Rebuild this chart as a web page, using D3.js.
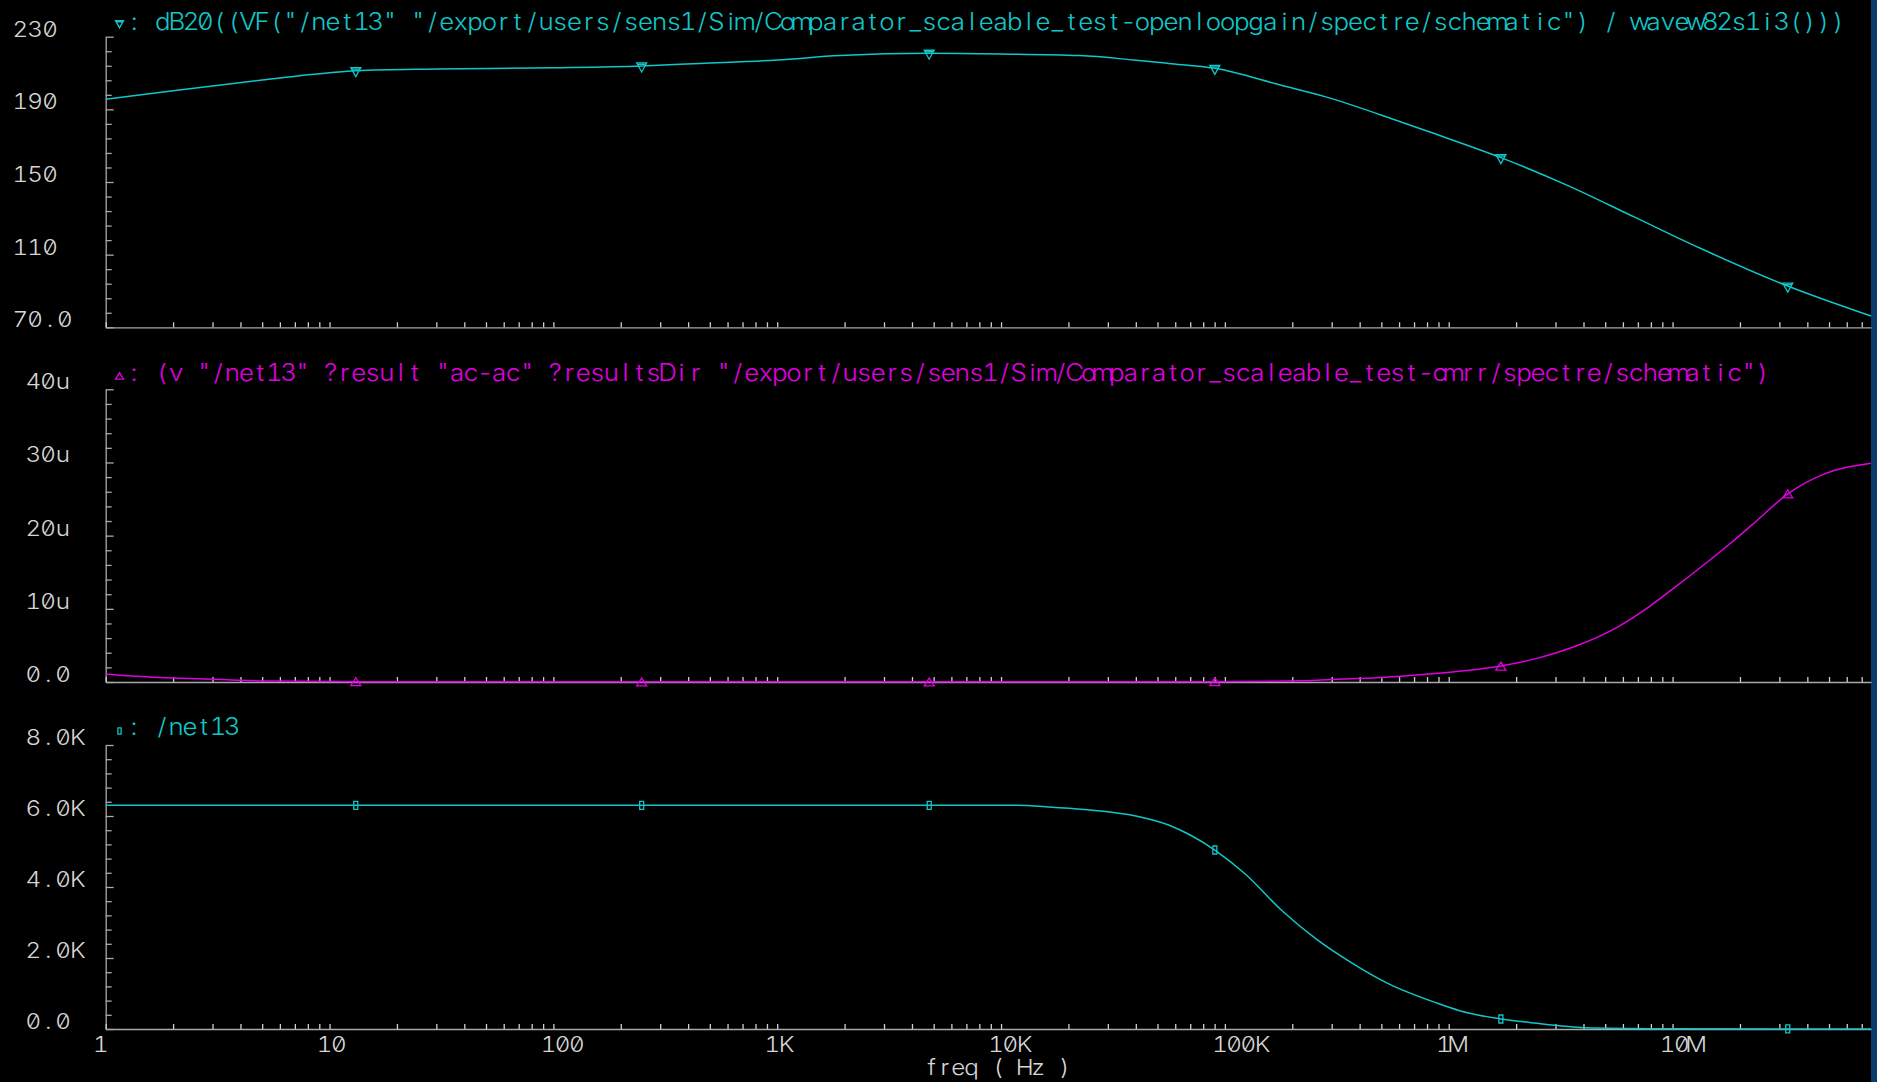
<!DOCTYPE html>
<html><head><meta charset="utf-8">
<script src="https://cdn.jsdelivr.net/npm/d3@7"></script>
<style>
html,body{margin:0;padding:0;background:#000;overflow:hidden}
svg{display:block}
text{font-family:Inter,"DejaVu Sans",sans-serif;font-weight:300;font-feature-settings:"zero" 1,"tnum" 1;}
</style></head><body>
<svg id="c" width="1877" height="1082"></svg>
<script>
// ---------------- data ----------------
const freqMax = 7.7e7;
const xTickValues = [1, 10, 100, 1e3, 1e4, 1e5, 1e6, 1e7];
const xTickLabels = ["1", "10", "100", "1K", "10K", "100K", "1M", "10M"];
const xAxisTitle = "freq ( Hz )";
const markerFreqs = [13.1, 248, 4775, 90200, 1.71e6, 32.7e6];

// Panel 1: open-loop gain (dB)
const gainTitle = ': dB20((VF("/net13" "/export/users/sens1/Sim/Comparator_scaleable_test-openloopgain/spectre/schematic") / wavew82s1i3()))';
const gainFreq = [1, 2, 5, 10, 13.1, 30, 100, 248, 452, 1000, 1900, 4775, 10000, 22400, 39000, 56000, 90200, 177000, 280000, 607000, 855000, 1.71e6, 3.37e6, 6.7e6, 13.3e6, 32.7e6, 7.7e7];
const gainDb   = [195.5, 200.3, 206.2, 210.2, 211.3, 212.2, 212.9, 213.9, 215.3, 217.2, 219.6, 220.9, 220.5, 219.6, 217.2, 215.3, 212.6, 203.4, 197.0, 183.2, 176.8, 163.4, 148.3, 130.9, 113.5, 92.7, 76.2];
const gainTicks = [70, 110, 150, 190, 230];
const gainTickLabels = ["70.0", "110", "150", "190", "230"];

// Panel 2: common-mode response (micro-volts)
const cmTitle = ': (v "/net13" ?result "ac-ac" ?resultsDir "/export/users/sens1/Sim/Comparator_scaleable_test-cmrr/spectre/schematic")';
const cmFreq  = [1, 1.2, 2, 3.5, 5.3, 10, 13.1, 100, 248, 4775, 90200, 225000, 336000, 479000, 893000, 1.71e6, 2.48e6, 3.7e6, 5.52e6, 7.87e6, 10.4e6, 18.2e6, 22.5e6, 32.7e6, 46.5e6, 7.7e7];
const cmMicro = [1.1, 0.9, 0.55, 0.3, 0.14, 0.06, 0.04, 0.02, 0.02, 0.02, 0.05, 0.18, 0.41, 0.59, 1.19, 2.18, 3.23, 4.91, 7.3, 10.3, 13.1, 19.0, 21.4, 25.7, 28.3, 29.9];
const cmTicks = [0, 10, 20, 30, 40];
const cmTickLabels = ["0.0", "10u", "20u", "30u", "40u"];

// Panel 3: /net13 magnitude
const netTitle = ': /net13';
const netFreq = [1, 13.1, 248, 4775, 11800, 17000, 25000, 40000, 56000, 70000, 90200, 123000, 178000, 258000, 373000, 540000, 883000, 1.12e6, 1.71e6, 2.34e6, 3.2e6, 4.3e6, 10e6, 32.7e6, 7.7e7];
const netVal  = [6300, 6300, 6300, 6300, 6300, 6245, 6170, 6000, 5746, 5465, 5042, 4372, 3360, 2518, 1843, 1270, 732, 516, 282, 178, 85, 28, 5, 1, 0];
const netTicks = [0, 2000, 4000, 6000, 8000];
const netTickLabels = ["0.0", "2.0K", "4.0K", "6.0K", "8.0K"];

// ---------------- layout ----------------
const W = 1877, H = 1082, X0 = 105.7, X1 = 1871;
const CYAN = "#12c6c8", MAG = "#e000e0", AXIS = "#a9a9a9", LABEL = "#d6d6d6";
const svg = d3.select("#c");
svg.append("rect").attr("width", W).attr("height", H).attr("fill", "#000");
svg.append("rect").attr("x", X1).attr("y", 0).attr("width", W - X1).attr("height", H).attr("fill", "#0a3c70");

const x = d3.scaleLog().domain([1, freqMax]).range([X0, X1]);

// fixed-pitch text: each glyph centred in its own cell, glyphs slightly widened
function monoText(g, str, xStart, y, pitch, fill, size, sx = 1.1) {
  const chars = [...str];
  const xs = chars.map((c, i) => ((xStart + pitch * (i + 0.5)) / sx).toFixed(2));
  return g.append("text").attr("transform", `scale(${sx},1)`)
    .attr("x", xs.join(" ")).attr("y", y)
    .attr("text-anchor", "middle").attr("fill", fill).attr("font-size", size)
    .style("white-space", "pre").text(str);
}

const minorX = [];
for (let e = 0; e <= 7; e++) for (let m = 1; m <= 9; m++) { const v = m * Math.pow(10, e); if (v <= freqMax) minorX.push(v); }

const panels = [
  { top: 36.7, bottom: 327.3, dom: [70, 230], minor: 8, ticks: gainTicks, labels: gainTickLabels, labelX: 13,
    fx: gainFreq, fy: gainDb, color: CYAN, marker: "down", title: gainTitle, titleY: 30, pitch: 14.2, titleMarkY: 23 },
  { top: 389.3, bottom: 682, dom: [0, 40], minor: 2, ticks: cmTicks, labels: cmTickLabels, labelX: 26,
    fx: cmFreq, fy: cmMicro, color: MAG, marker: "up", title: cmTitle, titleY: 381, pitch: 14.04, titleMarkY: 376 },
  { top: 745, bottom: 1029, dom: [0, 8000], minor: 400, ticks: netTicks, labels: netTickLabels, labelX: 26,
    fx: netFreq, fy: netVal, color: CYAN, marker: "rect", title: netTitle, titleY: 735, pitch: 14.0, titleMarkY: 731 }
];

function markerPath(kind, s) {
  if (kind === "down") return `M${-5*s},${-3*s}H${5*s}L0,${6*s}Z M${-4*s},${-1.5*s}H${4*s}`;
  if (kind === "up") return `M${-5*s},${4*s}H${5*s}L0,${-4*s}Z`;
  return `M${-2*s},${-4*s}H${2*s}V${4*s}H${-2*s}Z`;
}

panels.forEach((p, pi) => {
  const g = svg.append("g");
  const y = d3.scaleLinear().domain(p.dom).range([p.bottom, p.top]);

  // y axis (ticks pointing inward)
  const yMinor = d3.range(p.dom[0], p.dom[1] + p.minor / 2, p.minor);
  g.append("g").attr("transform", `translate(${X0},0)`)
    .call(d3.axisRight(y).tickValues(yMinor).tickSize(6).tickSizeOuter(0).tickFormat(""))
    .call(a => a.select(".domain").attr("stroke", AXIS).attr("stroke-width", 1.3))
    .call(a => a.selectAll(".tick line").attr("stroke", AXIS).attr("stroke-width", 1.3)
      .attr("x2", d => p.ticks.includes(d) ? 8 : 6));

  // y tick labels (baseline at tick)
  p.ticks.forEach((t, i) => monoText(g, p.labels[i], p.labelX, y(t), 14.8, LABEL, 22));

  // x axis line with ticks up
  g.append("g").attr("transform", `translate(0,${p.bottom})`)
    .call(d3.axisTop(x).tickValues(minorX).tickSize(5).tickSizeOuter(0).tickFormat(""))
    .call(a => a.select(".domain").attr("stroke", AXIS).attr("stroke-width", 1.3))
    .call(a => a.selectAll(".tick line").attr("stroke", "#d0d0d0").attr("stroke-width", 1.3));

  // curve
  const pts = p.fx.map((f, i) => ({ f, v: p.fy[i] }));
  const line = d3.line().x(d => x(d.f)).y(d => y(d.v)).curve(d3.curveMonotoneX);
  g.append("path").datum(pts).attr("d", line).attr("fill", "none")
    .attr("stroke", p.color).attr("stroke-width", 1.5);

  // markers
  markerFreqs.forEach(mf => {
    const d = pts.find(q => Math.abs(q.f - mf) / mf < 1e-6);
    if (!d) return;
    g.append("path").attr("d", markerPath(p.marker, 1))
      .attr("transform", `translate(${x(d.f)},${y(d.v)})`)
      .attr("fill", "none").attr("stroke", p.color).attr("stroke-width", 1.3);
  });

  // title with marker symbol
  g.append("path").attr("d", markerPath(p.marker, 0.8))
    .attr("transform", `translate(119.5,${p.titleMarkY})`)
    .attr("fill", "none").attr("stroke", p.color).attr("stroke-width", 1.3);
  monoText(g, p.title, 113 + p.pitch, p.titleY, p.pitch, p.color, 23.5);

  // x tick labels only on bottom panel
  if (pi === panels.length - 1) {
    xTickValues.forEach((v, i) => monoText(g, xTickLabels[i], x(v) - 12, 1052, 14.2, LABEL, 22));
    monoText(g, xAxisTitle, 925, 1075, 13.3, LABEL, 22);
  }
});
</script>
</body></html>
